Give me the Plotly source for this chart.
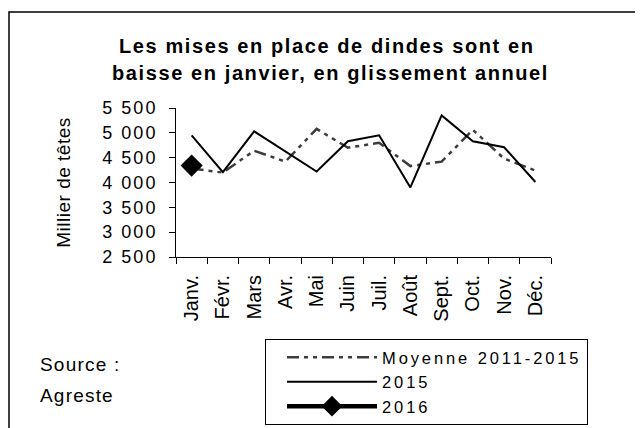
import plotly.graph_objects as go

months = ["Janv.", "Févr.", "Mars", "Avr.", "Mai", "Juin", "Juil.", "Août", "Sept.", "Oct.", "Nov.", "Déc."]
moyenne_2011_2015 = [4280, 4200, 4640, 4420, 5080, 4700, 4800, 4330, 4420, 5060, 4480, 4240]
values_2015 = [4950, 4210, 5030, 4620, 4220, 4830, 4950, 3900, 5350, 4830, 4710, 4010]
values_2016 = [4340]
y_ticks = [2500, 3000, 3500, 4000, 4500, 5000, 5500]
y_tick_labels = ["2 500", "3 000", "3 500", "4 000", "4 500", "5 000", "5 500"]

FONT = "Liberation Sans, Arial, sans-serif"
OFF = 8  # page body margin
W, H = 643 - OFF, 428 - OFF
L, R, T, B = 176 - OFF, 92, 108 - OFF, 171
PW, PH = W - L - R, H - T - B


def px(x):
    return (x - OFF - L) / PW


def py(y):
    return (H - B - (y - OFF)) / PH


def sp(text, ls=1.5):
    return f"<span style='letter-spacing:{ls}px'>{text}</span>"


fig = go.Figure()
fig.add_trace(go.Scatter(
    x=months, y=moyenne_2011_2015, mode="lines", name=sp("Moyenne 2011-2015", 2.9),
    line=dict(color="#3c3c3c", width=2.5, dash="12px,5px,4px,5px,4px,5px"),
))
fig.add_trace(go.Scatter(
    x=months, y=values_2015, mode="lines", name=sp("2015", 2.9),
    line=dict(color="black", width=2),
))
fig.add_trace(go.Scatter(
    x=months[:len(values_2016)], y=values_2016, mode="lines+markers", name=sp("2016", 2.9),
    line=dict(color="black", width=4.5),
    marker=dict(symbol="diamond", size=17, color="black"),
))

fig.update_layout(
    width=W, height=H,
    margin=dict(l=L, r=R, t=T, b=B, autoexpand=False),
    paper_bgcolor="white", plot_bgcolor="white",
    font=dict(family=FONT, size=18, color="black"),
    showlegend=True,
    legend=dict(
        x=px(265), y=py(339),
        xanchor="left", yanchor="top",
        bordercolor="black", borderwidth=1, bgcolor="white",
        font=dict(family=FONT, size=16.5, color="black"),
        itemwidth=90, tracegroupgap=0, indentation=16,
        entrywidth=322, entrywidthmode="pixels",
    ),
    xaxis=dict(
        type="category", range=[-0.5, 11.5],
        showline=True, linecolor="black", linewidth=1,
        ticks="outside", tickson="boundaries", ticklen=6, tickcolor="black",
        tickangle=-90, tickfont=dict(size=20), ticklabelstandoff=9,
        showgrid=False, zeroline=False,
    ),
    yaxis=dict(
        range=[2500, 5500], tickvals=y_ticks,
        ticktext=[sp(t, 2) for t in y_tick_labels],
        showline=True, linecolor="black", linewidth=1,
        ticks="outside", ticklen=6, tickcolor="black", ticklabelstandoff=8,
        tickfont=dict(size=18), showgrid=False, zeroline=False,
        title=dict(text=sp("Millier de têtes", 0.5), font=dict(size=19), standoff=26),
    ),
    shapes=[dict(type="rect", xref="paper", yref="paper",
                 x0=px(9), x1=px(720), y0=py(520), y1=py(12),
                 line=dict(color="black", width=1.5), layer="below")],
    annotations=[
        dict(text="<b>" + sp("Les mises en place de dindes sont en", 1.6) + "</b>",
             xref="paper", yref="paper", x=px(327), y=py(46),
             showarrow=False, font=dict(size=20), xanchor="center", yanchor="middle"),
        dict(text="<b>" + sp("baisse en janvier, en glissement annuel", 1.6) + "</b>",
             xref="paper", yref="paper", x=px(330), y=py(73),
             showarrow=False, font=dict(size=20), xanchor="center", yanchor="middle"),
        dict(text=sp("Source :", 1.2), xref="paper", yref="paper",
             x=px(38), y=py(364),
             showarrow=False, xanchor="left", yanchor="middle", font=dict(size=19)),
        dict(text=sp("Agreste", 1.2), xref="paper", yref="paper",
             x=px(38), y=py(395),
             showarrow=False, xanchor="left", yanchor="middle", font=dict(size=19)),
    ],
)

fig.write_html("out.html")
